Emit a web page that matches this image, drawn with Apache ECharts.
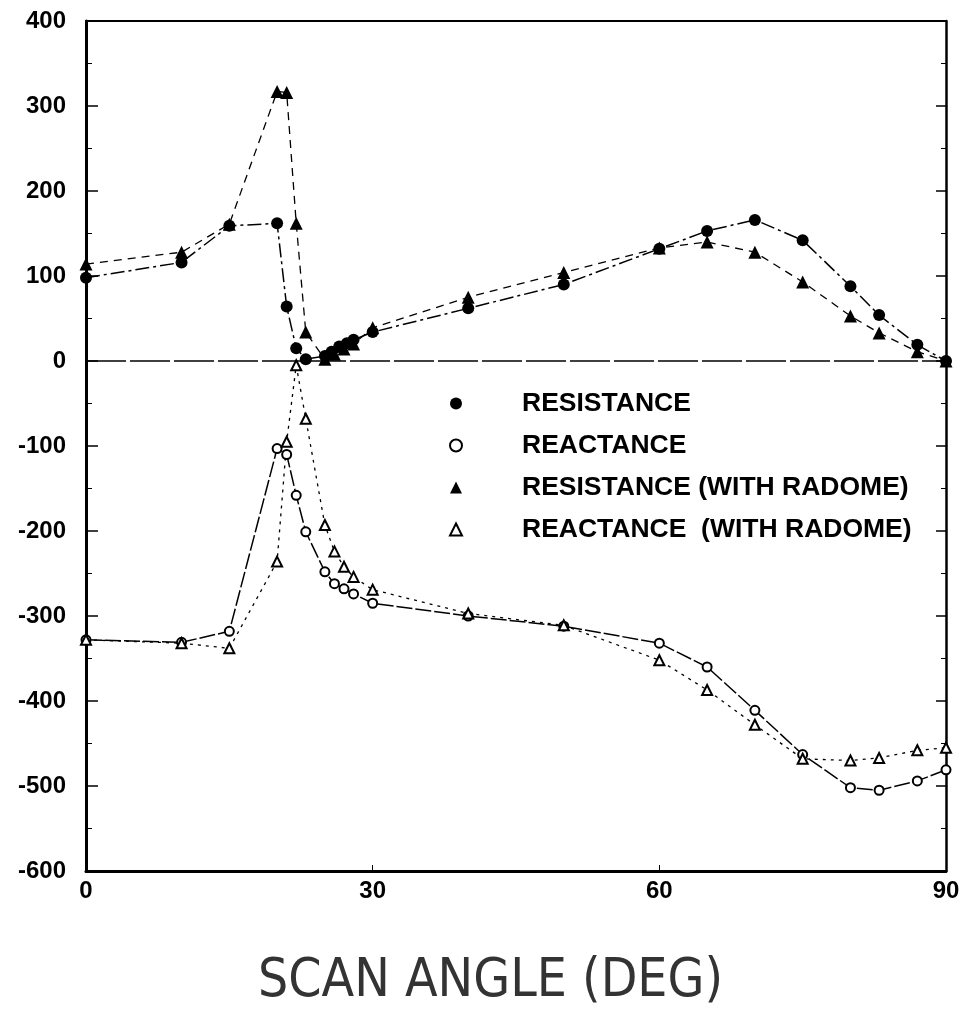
<!DOCTYPE html>
<html>
<head>
<meta charset="utf-8">
<script src="https://cdn.jsdelivr.net/npm/echarts@6/dist/echarts.min.js"></script>
<style>
  html, body { margin: 0; padding: 0; background: #fff; }
  #chart { width: 967px; height: 1036px; }
</style>
</head>
<body>
<div id="chart"></div>
<script>
const xTicks = [0, 30, 60, 90]
const yTicks = [-600, -500, -400, -300, -200, -100, 0, 100, 200, 300, 400]

const anglesRes = [0, 10, 15, 20, 21, 22, 23, 25, 25.7, 26.5, 27.3, 28, 30, 40, 50, 60, 65, 70, 75, 80, 83, 87, 90]
const resistance = [98, 116, 159, 162, 64, 15, 2, 6, 11, 17, 21, 25, 34, 62, 90, 132, 153, 166, 142, 88, 54, 19, 0]

const anglesRad = [0, 10, 15, 20, 21, 22, 23, 25, 26, 27, 28, 30, 40, 50, 60, 65, 70, 75, 80, 83, 87, 90]
const resistanceRadome = [114, 128, 161, 317, 316, 162, 34, 2, 8, 14, 20, 39, 75, 104, 133, 140, 128, 93, 53, 33, 11, 0]

const anglesReact = [0, 10, 15, 20, 21, 22, 23, 25, 26, 27, 28, 30, 40, 50, 60, 65, 70, 75, 80, 83, 87, 90]
const reactance = [-328, -331, -318, -103, -110, -158, -201, -248, -262, -268, -274, -285, -300, -312, -332, -360, -411, -463, -502, -505, -494, -481]
const reactanceRadome = [-328, -332, -338, -236, -95, -5, -68, -193, -224, -242, -254, -269, -297, -311, -352, -387, -428, -468, -470, -467, -458, -455]

const names = ['RESISTANCE', 'REACTANCE', 'RESISTANCE (WITH RADOME)', 'REACTANCE  (WITH RADOME)']
const xTitle = 'SCAN ANGLE (DEG)'

function pairs(xs, ys) {
  return xs.map((x, i) => [x, ys[i]])
}

const chart = echarts.init(document.getElementById('chart'))
const labelFont = { fontFamily: 'Liberation Sans', fontWeight: 'bold', fontSize: 24, color: '#000' }

chart.setOption({
  backgroundColor: '#fff',
  animation: false,
  grid: { left: 86, right: 21, top: 21, bottom: 165 },
  graphic: [
    {
      type: 'text', left: 258, top: 956,
      style: {
        text: xTitle,
        font: 'normal 53px "DejaVu Sans Condensed", "DejaVu Sans"',
        fill: '#333'
      }
    }
  ],
  legend: {
    orient: 'vertical',
    left: 449,
    top: 390,
    padding: 0,
    itemWidth: 12,
    itemHeight: 12,
    itemGap: 15,
    textStyle: {
      fontFamily: 'Liberation Sans', fontWeight: 'bold', fontSize: 26.5, color: '#000',
      padding: [0, 0, 0, 55]
    },
    data: [
      { name: names[0], icon: 'circle' },
      { name: names[1], icon: 'emptyCircle' },
      { name: names[2], icon: 'triangle' },
      { name: names[3], icon: 'emptyTriangle' }
    ]
  },
  xAxis: [
    {
      type: 'value', min: 0, max: 90, interval: 30,
      axisLine: { show: true, onZero: false, lineStyle: { color: '#000', width: 3 } },
      axisTick: { show: true, inside: true, length: 6, lineStyle: { color: '#000' } },
      axisLabel: Object.assign({ margin: 8, customValues: xTicks }, labelFont),
      splitLine: { show: false }
    },
    {
      type: 'value', min: 0, max: 90, interval: 30, position: 'top',
      axisLine: { show: true, onZero: false, lineStyle: { color: '#000', width: 2 } },
      axisTick: { show: false }, axisLabel: { show: false }, splitLine: { show: false }
    }
  ],
  yAxis: [
    {
      type: 'value', min: -600, max: 400, interval: 100,
      axisLine: { show: true, onZero: false, lineStyle: { color: '#000', width: 3 } },
      axisTick: { show: true, inside: true, length: 12, lineStyle: { color: '#000', width: 1.5 } },
      minorTick: { show: true, splitNumber: 2, length: 6, lineStyle: { color: '#000' } },
      axisLabel: Object.assign({ margin: 20, customValues: yTicks }, labelFont),
      splitLine: { show: false }
    },
    {
      type: 'value', min: -600, max: 400, interval: 100, position: 'right',
      axisLine: { show: true, onZero: false, lineStyle: { color: '#000', width: 2.5 } },
      axisTick: { show: true, inside: true, length: 10, lineStyle: { color: '#000', width: 1.5 } },
      minorTick: { show: true, splitNumber: 2, length: 5, lineStyle: { color: '#000' } },
      axisLabel: { show: false }, splitLine: { show: false }
    }
  ],
  series: [
    {
      name: names[0], type: 'line', data: pairs(anglesRes, resistance),
      symbol: 'circle', symbolSize: 12,
      itemStyle: { color: '#000' },
      lineStyle: { color: '#000', width: 1.5, type: [14, 4, 3, 4] },
      markLine: {
        silent: true, symbol: 'none', label: { show: false },
        lineStyle: { color: '#000', width: 1.5, type: [40, 4] },
        data: [{ yAxis: 0 }]
      }
    },
    {
      name: names[1], type: 'line', data: pairs(anglesReact, reactance),
      symbol: 'emptyCircle', symbolSize: 9,
      itemStyle: { color: '#000', borderWidth: 1.5 },
      lineStyle: { color: '#000', width: 1.5, type: [16, 3] }
    },
    {
      name: names[2], type: 'line', data: pairs(anglesRad, resistanceRadome),
      symbol: 'triangle', symbolSize: 13,
      itemStyle: { color: '#000' },
      lineStyle: { color: '#000', width: 1.3, type: [8, 6] }
    },
    {
      name: names[3], type: 'line', data: pairs(anglesRad, reactanceRadome),
      symbol: 'emptyTriangle', symbolSize: 10,
      itemStyle: { color: '#000', borderWidth: 1.5 },
      lineStyle: { color: '#000', width: 1.3, type: [3, 5] }
    }
  ]
})
</script>
</body>
</html>
